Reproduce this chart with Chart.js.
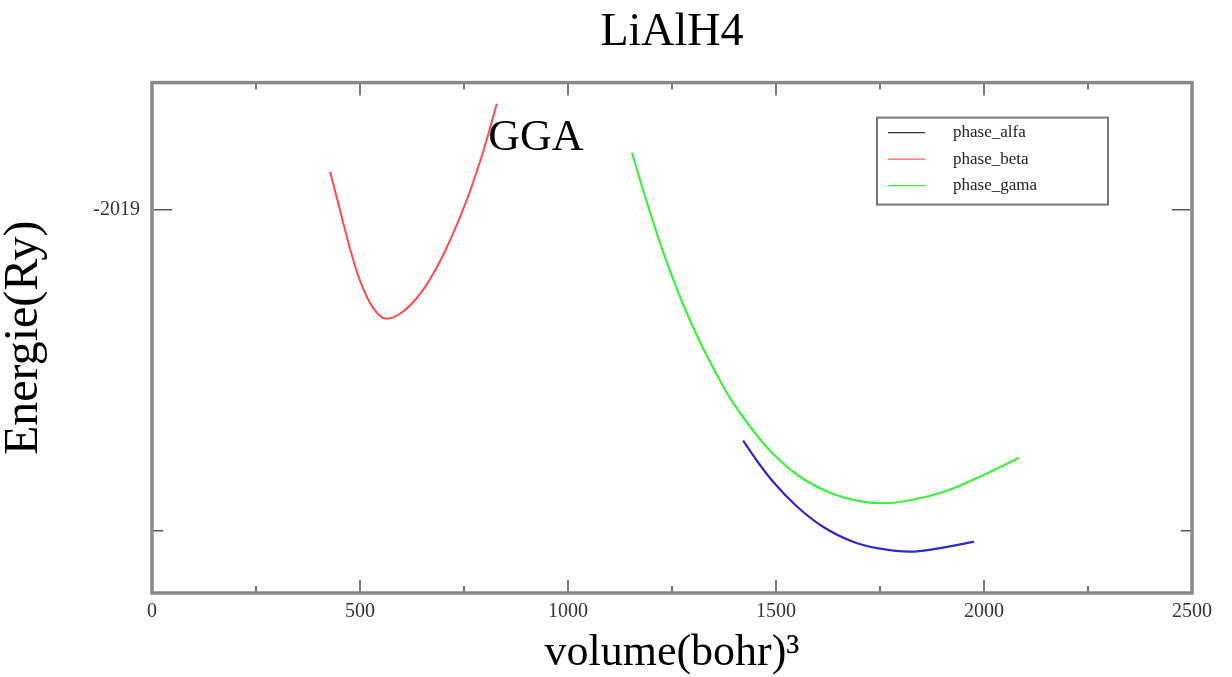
<!DOCTYPE html>
<html>
<head>
<meta charset="utf-8">
<script src="https://cdn.jsdelivr.net/npm/chart.js@4.4.1/dist/chart.umd.min.js"></script>
<style>
  body { margin: 0; background: #fff; }
  #wrap { width: 1232px; height: 677px; }
</style>
</head>
<body>
<div id="wrap"><canvas id="myChart" width="1232" height="677"></canvas></div>
<script>
// values
const volumeAlfa = [1421, 1454, 1493, 1551, 1613, 1685, 1750, 1822, 1887, 1976];
const energyAlfa = [-2019.3598, -2019.3910, -2019.4237, -2019.4626, -2019.4938, -2019.5171, -2019.5280, -2019.5327, -2019.5280, -2019.5171];

const volumeBeta = [428, 445, 459, 476, 500, 531, 563, 596, 637, 676, 716, 757, 796, 829];
const energyBeta = [-2018.9408, -2018.9829, -2019.0187, -2019.0607, -2019.1106, -2019.1526, -2019.1698, -2019.1620, -2019.1371, -2019.0997, -2019.0483, -2018.9844, -2018.9097, -2018.8349];

const volumeGama = [1154, 1173, 1197, 1221, 1245, 1276, 1317, 1358, 1389, 1438, 1486, 1551, 1630, 1709, 1757, 1829, 1911, 1990, 2084];
const energyGama = [-2018.9112, -2018.9533, -2019.0031, -2019.0514, -2019.0950, -2019.1464, -2019.2056, -2019.2570, -2019.2928, -2019.3380, -2019.3754, -2019.4128, -2019.4408, -2019.4548, -2019.4572, -2019.4517, -2019.4377, -2019.4159, -2019.3863];

const seriesLabels = ['phase_alfa', 'phase_beta', 'phase_gama'];
const xMajorTicks = [0, 500, 1000, 1500, 2000, 2500];
const xMinorTicks = [250, 750, 1250, 1750, 2250];
const yMajorTicks = [-2019];
const yMinorTicks = [-2019.5];
const xMin = 0, xMax = 2500;
const yMin = -2019.597, yMax = -2018.802;
const annotationText = 'GGA';
const annotationAt = [923, -2018.883];

const toPoints = (xs, ys) => xs.map((x, i) => ({ x: x, y: ys[i] }));

// frame + inward ticks like xmgrace
const framePlugin = {
    id: 'frame',
    afterDraw(chart) {
        const ctx = chart.ctx;
        const a = chart.chartArea;
        const sx = chart.scales.x, sy = chart.scales.y;
        ctx.save();
        ctx.strokeStyle = '#7a7a7a';
        ctx.lineWidth = 2;
        const tick = (x1, y1, x2, y2) => { ctx.beginPath(); ctx.moveTo(x1, y1); ctx.lineTo(x2, y2); ctx.stroke(); };
        xMajorTicks.forEach(v => { const p = sx.getPixelForValue(v); tick(p, a.bottom, p, a.bottom - 13); tick(p, a.top, p, a.top + 13); });
        xMinorTicks.forEach(v => { const p = sx.getPixelForValue(v); tick(p, a.bottom, p, a.bottom - 7); tick(p, a.top, p, a.top + 7); });
        ctx.strokeStyle = '#555';
        ctx.lineWidth = 1.5;
        yMajorTicks.forEach(v => { const p = sy.getPixelForValue(v); tick(a.left, p, a.left + 20, p); tick(a.right, p, a.right - 20, p); });
        yMinorTicks.forEach(v => { const p = sy.getPixelForValue(v); tick(a.left, p, a.left + 11, p); tick(a.right, p, a.right - 11, p); });
        ctx.strokeStyle = '#8a8a8a';
        ctx.lineWidth = 3.5;
        ctx.strokeRect(a.left, a.top, a.right - a.left, a.bottom - a.top);

        // annotation
        ctx.fillStyle = '#000';
        ctx.font = '44px "Liberation Serif"';
        ctx.textAlign = 'center';
        ctx.textBaseline = 'alphabetic';
        ctx.fillText(annotationText, sx.getPixelForValue(annotationAt[0]), sy.getPixelForValue(annotationAt[1]) + 15);

        // legend box
        const bx = a.right - 315, by = a.top + 35, bw = 231, bh = 87;
        ctx.fillStyle = '#fff';
        ctx.fillRect(bx, by, bw, bh);
        ctx.strokeStyle = '#777';
        ctx.lineWidth = 2;
        ctx.strokeRect(bx, by, bw, bh);
        ctx.font = '17px "Liberation Serif"';
        ctx.textAlign = 'left';
        ctx.textBaseline = 'middle';
        chart.data.datasets.forEach((ds, i) => {
            const y = by + 15 + i * 26.5;
            ctx.strokeStyle = ds.legendColor;
            ctx.lineWidth = 1.4;
            tick(bx + 11, y, bx + 48, y);
            ctx.fillStyle = '#222';
            ctx.fillText(ds.label, bx + 76, y);
        });
        ctx.restore();
    }
};

new Chart(document.getElementById('myChart'), {
    type: 'line',
    data: {
        datasets: [
            { label: seriesLabels[0], data: toPoints(volumeAlfa, energyAlfa), borderColor: '#2b2bcc', legendColor: '#333', borderWidth: 2.2 },
            { label: seriesLabels[1], data: toPoints(volumeBeta, energyBeta), borderColor: '#ff4a4a', legendColor: '#ff5a5a', borderWidth: 2 },
            { label: seriesLabels[2], data: toPoints(volumeGama, energyGama), borderColor: '#3cf03c', legendColor: '#3cf03c', borderWidth: 2.2 }
        ]
    },
    options: {
        responsive: false,
        animation: false,
        devicePixelRatio: 1,
        elements: { point: { radius: 0 }, line: { cubicInterpolationMode: 'monotone', fill: false } },
        layout: { padding: { left: 0, right: 40, top: 0, bottom: 0 } },
        plugins: {
            legend: { display: false },
            tooltip: { enabled: false },
            title: {
                display: true,
                text: 'LiAlH4',
                fullSize: false,
                color: '#000',
                font: { family: 'Liberation Serif', size: 46, weight: 'normal', lineHeight: 1.1 },
                padding: { top: 8, bottom: 24 }
            }
        },
        scales: {
            x: {
                type: 'linear',
                min: xMin, max: xMax,
                grid: { display: false, drawTicks: false },
                border: { display: false },
                afterBuildTicks: s => { s.ticks = xMajorTicks.map(v => ({ value: v })); },
                afterFit: s => { s.height = 84; },
                ticks: {
                    color: '#333', padding: 7,
                    font: { family: 'Liberation Serif', size: 20 },
                    callback: v => String(v), maxRotation: 0
                },
                title: {
                    display: true, text: 'volume(bohr)³', color: '#000',
                    font: { family: 'Liberation Serif', size: 44, lineHeight: 1 },
                    padding: { top: 0, bottom: 2 }
                }
            },
            y: {
                type: 'linear',
                min: yMin, max: yMax,
                grid: { display: false, drawTicks: false },
                border: { display: false },
                afterBuildTicks: s => { s.ticks = yMajorTicks.map(v => ({ value: v })); },
                afterFit: s => { s.width = 152; },
                ticks: {
                    color: '#333', padding: 12,
                    font: { family: 'Liberation Serif', size: 20 },
                    callback: v => String(v)
                },
                title: {
                    display: true, text: 'Energie(Ry)', color: '#000',
                    font: { family: 'Liberation Serif', size: 48, lineHeight: 1 },
                    padding: { top: 0, bottom: 14 }
                }
            }
        }
    },
    plugins: [framePlugin]
});
</script>
</body>
</html>
